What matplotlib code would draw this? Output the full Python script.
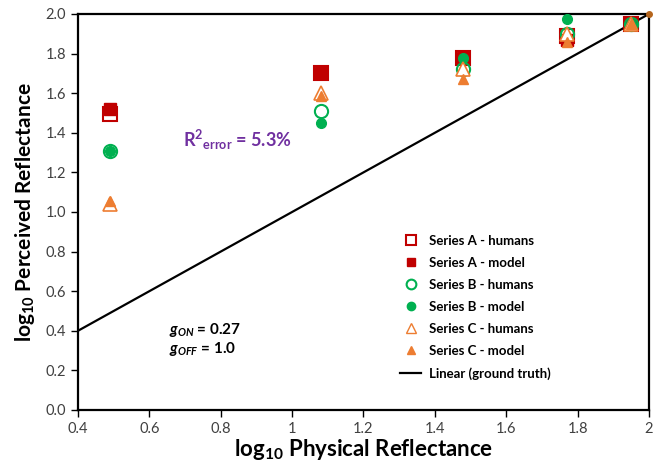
import matplotlib
matplotlib.use("Agg")
import matplotlib.pyplot as plt
from matplotlib.lines import Line2D

plt.rcParams['font.family'] = ['Lato', 'DejaVu Sans']
plt.rcParams['mathtext.fontset'] = 'custom'
plt.rcParams['mathtext.rm'] = 'Lato:bold'
plt.rcParams['mathtext.bf'] = 'Lato:bold'
plt.rcParams['mathtext.it'] = 'Lato:bold:italic'

x_vals = [0.49, 1.08, 1.48, 1.77, 1.95]
a_humans = [1.495, 1.70, 1.78, 1.89, 1.95]
a_model = [1.52, 1.70, 1.78, 1.87, 1.95]
b_humans = [1.31, 1.51, 1.72, 1.90, 1.95]
b_model = [1.31, 1.45, 1.78, 1.975, 1.95]
c_humans = [1.04, 1.60, 1.72, 1.90, 1.95]
c_model = [1.055, 1.585, 1.67, 1.86, 1.95]
corner_x = [2.0]
corner_y = [2.0]
line_x = [0.4, 2.0]
line_y = [0.4, 2.0]

red = '#C00000'
green = '#00B050'
orange = '#ED7D31'
purple = '#7030A0'

fig = plt.figure(figsize=(6.57, 4.66), dpi=100)
ax = fig.add_axes([0.1187, 0.1202, 0.8691, 0.8498])

ax.plot(line_x, line_y, color='black', lw=1.6, zorder=2)

ax.plot(x_vals, a_humans, ls='none', marker='s', ms=9.5, mfc='none', mec=red, mew=1.5, zorder=3)
ax.plot(x_vals, a_model, ls='none', marker='s', ms=8.5, mfc=red, mec=red, zorder=4)
ax.plot(x_vals, b_humans, ls='none', marker='o', ms=9.5, mfc='none', mec=green, mew=1.5, zorder=5)
ax.plot(x_vals, b_model, ls='none', marker='o', ms=7, mfc=green, mec=green, zorder=6)
ax.plot(x_vals, c_humans, ls='none', marker='^', ms=9.5, mfc='white', mec=orange, mew=1.2, zorder=7)
ax.plot(x_vals, c_model, ls='none', marker='^', ms=7.5, mfc=orange, mec=orange, zorder=8)
ax.plot(corner_x, corner_y, ls='none', marker='o', ms=4, mfc='#B5651D', mec='#B5651D', zorder=9, clip_on=False)

ax.set_xlim(0.4, 2.0)
ax.set_ylim(0.0, 2.0)
xt = [0.4, 0.6, 0.8, 1.0, 1.2, 1.4, 1.6, 1.8, 2.0]
ax.set_xticks(xt)
ax.set_xticklabels(['0.4', '0.6', '0.8', '1', '1.2', '1.4', '1.6', '1.8', '2'])
yt = [0.0, 0.2, 0.4, 0.6, 0.8, 1.0, 1.2, 1.4, 1.6, 1.8, 2.0]
ax.set_yticks(yt)
ax.set_yticklabels([f'{v:.1f}' for v in yt])
ax.tick_params(direction='out', length=5, width=1, labelsize=10.5, colors='black', labelcolor='#404040')
for s in ax.spines.values():
    s.set_linewidth(1.6)
    s.set_color('black')

ax.set_xlabel(r'log$_{10}$ Physical Reflectance', fontsize=16, fontweight='bold', labelpad=1)
ax.set_ylabel(r'log$_{10}$ Perceived Reflectance', fontsize=15, fontweight='bold', labelpad=6)

ax.text(0.694, 1.364, r'R$^{2}{}_{\mathrm{error}}$ = 5.3%', color=purple, fontsize=13, fontweight='bold', va='center', ha='left')
ax.text(0.655, 0.404, r'$g_{ON}$ = 0.27', fontsize=11, fontweight='bold', va='center', ha='left')
ax.text(0.655, 0.308, r'$g_{OFF}$ = 1.0', fontsize=11, fontweight='bold', va='center', ha='left')

handles = [
    Line2D([], [], ls='none', marker='s', ms=7, mfc='none', mec=red, mew=1.5),
    Line2D([], [], ls='none', marker='s', ms=5.5, mfc=red, mec=red),
    Line2D([], [], ls='none', marker='o', ms=7, mfc='none', mec=green, mew=1.5),
    Line2D([], [], ls='none', marker='o', ms=6, mfc=green, mec=green),
    Line2D([], [], ls='none', marker='^', ms=7, mfc='none', mec=orange, mew=1.0),
    Line2D([], [], ls='none', marker='^', ms=6, mfc=orange, mec=orange),
    Line2D([], [], color='black', lw=1.6),
]
labels = ['Series A - humans', 'Series A - model', 'Series B - humans', 'Series B - model',
          'Series C - humans', 'Series C - model', 'Linear (ground truth)']
leg = ax.legend(handles, labels, loc='upper left', bbox_to_anchor=(0.555, 0.456), frameon=False,
                prop={'weight': 'bold', 'size': 9.5}, handlelength=1.6, handletextpad=0.6,
                labelspacing=0.76, borderaxespad=0)

fig.savefig('out.png', dpi=100)
